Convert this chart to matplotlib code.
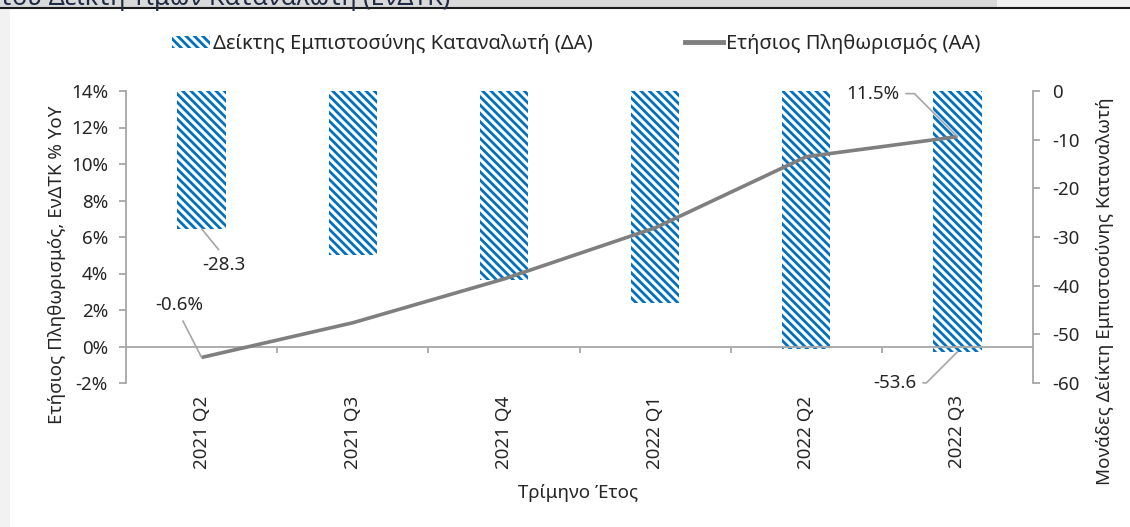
import matplotlib
matplotlib.use('Agg')
import matplotlib.pyplot as plt
import numpy as np
from matplotlib.patches import Rectangle
from matplotlib.lines import Line2D

# ---- data ----
categories = ['2021 Q2', '2021 Q3', '2021 Q4', '2022 Q1', '2022 Q2', '2022 Q3']
confidence = [-28.3, -33.7, -38.8, -43.5, -53.0, -53.6]     # right axis (bars)
inflation = [-0.6, 1.3, 3.7, 6.5, 10.4, 11.5]               # left axis (%)
left_ticks = [-2, 0, 2, 4, 6, 8, 10, 12, 14]
right_ticks = [-60, -50, -40, -30, -20, -10, 0]

legend_bar = 'Δείκτης Εμπιστοσύνης Καταναλωτή (ΔΑ)'
legend_line = 'Ετήσιος Πληθωρισμός (ΑΑ)'
ylabel_left = 'Ετήσιος Πληθωρισμός, ΕνΔΤΚ % YoY'
ylabel_right = 'Μονάδες Δείκτη Εμπιστοσύνης Καταναλωτή'
xlabel = 'Τρίμηνο Έτος'
top_title = 'του Δείκτη Τιμών Καταναλωτή (ΕνΔΤΚ)'

# ---- style ----
plt.rcParams['font.family'] = ['Noto Sans', 'DejaVu Sans']
plt.rcParams['hatch.linewidth'] = 2.0
BLUE = '#0070C0'
GREY = '#a6a6a6'
LINEG = '#7f7f7f'
TXT = '#262626'
FS = 13.5
HATCH = '\\\\\\\\'

W, H = 1130, 527
fig = plt.figure(figsize=(W / 100, H / 100), dpi=100)

# top banner remnants
fig.patches.append(Rectangle((0, 1 - 7 / H), 997 / W, 7 / H, transform=fig.transFigure,
                             facecolor='#d9d9d9', edgecolor='none', zorder=0))
fig.patches.append(Rectangle((997 / W, 1 - 7 / H), 1 - 997 / W, 7 / H, transform=fig.transFigure,
                             facecolor='#f0f0f0', edgecolor='none', zorder=0))
fig.patches.append(Rectangle((0, 0), 10 / W, 1 - 9 / H, transform=fig.transFigure,
                             facecolor='#f2f2f2', edgecolor='none', zorder=0))
fig.lines.append(Line2D([0, 1], [1 - 8 / H, 1 - 8 / H], transform=fig.transFigure,
                        color='#1a1a1a', lw=1.5))
fig.text(0.0, 1 - 5 / H, top_title, fontsize=18, color='#1f2a44', va='baseline', ha='left')

ax1 = fig.add_axes([126 / W, 1 - 383 / H, (1033 - 126) / W, (383 - 91) / H])
ax2 = ax1.twinx()
x = np.arange(len(categories))

# bars on right axis
ax2.bar(x, confidence, width=0.32, facecolor='white', edgecolor=BLUE,
        hatch=HATCH, linewidth=0, zorder=2)
ax2.set_ylim(-60, 0)
ax2.set_yticks(right_ticks)
ax2.set_yticklabels([str(t) for t in right_ticks])

# line on left axis
ax1.plot(x, inflation, color=LINEG, lw=2.6, zorder=5, solid_capstyle='butt')
ax1.set_ylim(-2, 14)
ax1.set_yticks(left_ticks)
ax1.set_yticklabels([f'{t}%' for t in left_ticks])
ax1.set_xlim(-0.5, len(categories) - 0.5)
ax1.set_xticks(x)
ax1.set_xticklabels(categories, rotation=90)
ax1.axhline(0, color=GREY, lw=1.3, zorder=3)
bounds = np.arange(1, len(categories)) - 0.5
ax1.vlines(bounds, -0.33, 0, color=GREY, lw=1.3, zorder=3)

ax1.set_zorder(ax2.get_zorder() + 1)
ax1.patch.set_visible(False)

for a in (ax1, ax2):
    for s in ('top', 'bottom'):
        a.spines[s].set_visible(False)
ax1.spines['right'].set_visible(False)
ax2.spines['left'].set_visible(False)
ax1.spines['left'].set_color(GREY)
ax1.spines['left'].set_linewidth(1.3)
ax2.spines['right'].set_color(GREY)
ax2.spines['right'].set_linewidth(1.3)

ax1.tick_params(axis='y', colors=GREY, labelcolor=TXT, labelsize=FS, length=5, width=1.3, pad=8)
ax2.tick_params(axis='y', colors=GREY, labelcolor=TXT, labelsize=FS, length=5, width=1.3, pad=9)
ax1.tick_params(axis='x', length=0, labelsize=FS, labelcolor=TXT, pad=9)

# annotations
def lead(ax, xi, yi, txt, dx, dy, conn='arc3', relpos=(0.5, 0.5)):
    ax.annotate(txt, xy=(xi, yi), xytext=(dx, dy), textcoords='offset pixels',
                ha='center', va='center', fontsize=FS, color=TXT, zorder=10,
                arrowprops=dict(arrowstyle='-', color=GREY, lw=1.2, shrinkA=3, shrinkB=0,
                                connectionstyle=conn, relpos=relpos))

lead(ax2, x[0], confidence[0], f'{confidence[0]:.1f}', 22, -36, relpos=(0.5, 1.0))
lead(ax1, x[0], inflation[0], f'{inflation[0]:.1f}%', -22, 52, relpos=(0.5, 0.0))
lead(ax1, x[-1], inflation[-1], f'{inflation[-1]:.1f}%', -85, 43,
     conn='angle,angleA=0,angleB=-45,rad=0', relpos=(1.0, 0.5))
lead(ax2, x[-1], confidence[-1], f'{confidence[-1]:.1f}', -63, -31,
     conn='angle,angleA=0,angleB=45,rad=0', relpos=(1.0, 0.5))

# axis labels
fig.text(57 / W, 1 - 265 / H, ylabel_left, rotation=90, ha='center', va='center', fontsize=FS, color=TXT)
fig.text(1105 / W, 1 - 291 / H, ylabel_right, rotation=90, ha='center', va='center', fontsize=FS, color=TXT)
fig.text(578 / W, 1 - 493 / H, xlabel, ha='center', va='center', fontsize=FS, color=TXT)

# legend
h_bar = Rectangle((0, 0), 1, 1, facecolor='white', edgecolor=BLUE, hatch=HATCH, linewidth=0)
h_line = Line2D([], [], color=LINEG, lw=3.5)
fig.legend([h_bar, h_line], [legend_bar, legend_line], loc='center',
           bbox_to_anchor=(576 / W, 1 - 44 / H), ncol=2, frameon=False, fontsize=14.5,
           handlelength=1.9, handleheight=0.55, handletextpad=0.12, columnspacing=4.6,
           labelcolor=TXT)

fig.savefig('out.png', dpi=100)
